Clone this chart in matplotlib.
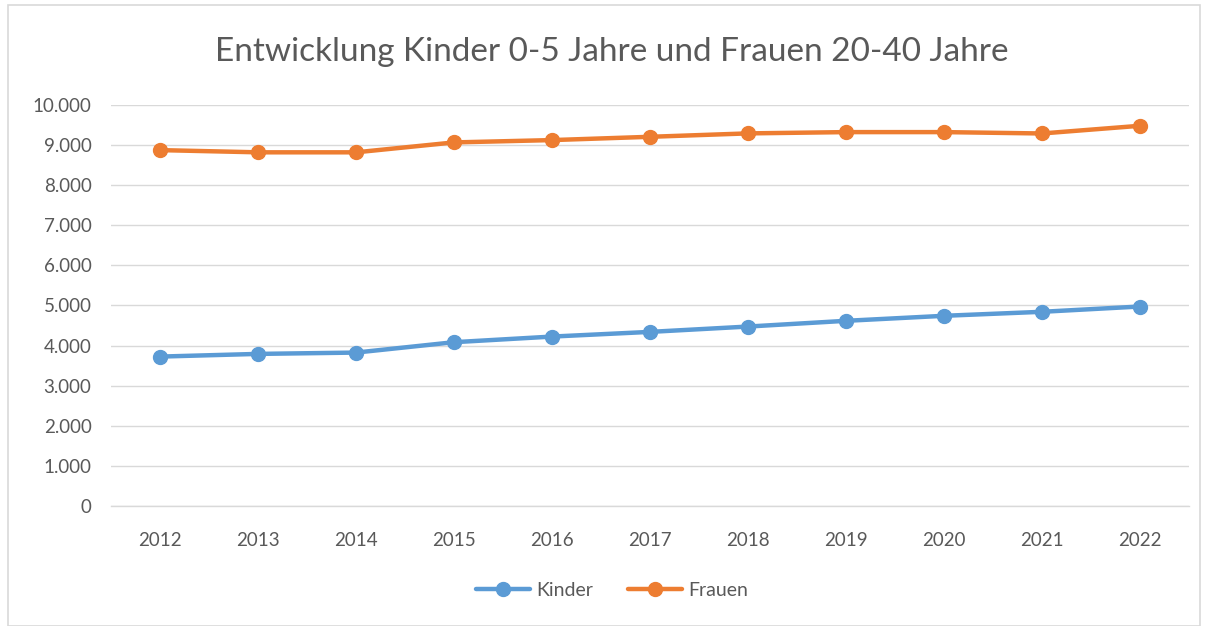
import matplotlib
matplotlib.use("Agg")
import matplotlib.pyplot as plt
from matplotlib.ticker import FuncFormatter, MultipleLocator
from matplotlib.patches import Rectangle

years = ["2012", "2013", "2014", "2015", "2016", "2017", "2018", "2019", "2020", "2021", "2022"]
kinder = [3726, 3793, 3826, 4085, 4225, 4342, 4475, 4618, 4743, 4843, 4975]
frauen = [8875, 8820, 8820, 9067, 9125, 9207, 9292, 9324, 9324, 9290, 9482]

plt.rcParams['font.family'] = ['Lato', 'DejaVu Sans']
W, H = 1206, 626
fig = plt.figure(figsize=(W / 100, H / 100), dpi=100)
fig.patch.set_facecolor('white')

# chart border
fig.add_artist(Rectangle((8 / W, 0), (1200 - 8) / W, (626 - 5) / H, transform=fig.transFigure,
                         fill=False, edgecolor='#d9d9d9', linewidth=1.2))

ax = fig.add_axes([111 / W, 1 - 506 / H, (1189 - 111) / W, (506 - 105) / H])
x = list(range(len(years)))
ax.plot(x, kinder, color='#5b9bd5', linewidth=3.2, marker='o', markersize=10, label='Kinder',
        solid_capstyle='round', zorder=3)
ax.plot(x, frauen, color='#ed7d31', linewidth=3.2, marker='o', markersize=10, label='Frauen',
        solid_capstyle='round', zorder=3)

ax.set_xlim(-0.5, len(years) - 0.5)
ax.set_ylim(0, 10000)
ax.yaxis.set_major_locator(MultipleLocator(1000))
ax.yaxis.set_major_formatter(FuncFormatter(lambda v, p: f"{int(v):,}".replace(",", ".")))
ax.set_xticks(x)
ax.set_xticklabels(years)
ax.grid(axis='y', color='#d9d9d9', linewidth=1)
ax.set_axisbelow(True)
for s in ['top', 'right', 'left']:
    ax.spines[s].set_visible(False)
ax.spines['bottom'].set_color('#d9d9d9')
ax.spines['bottom'].set_linewidth(1)
ax.tick_params(axis='both', length=0, labelsize=13.5, labelcolor='#595959')
ax.tick_params(axis='x', pad=19)
ax.tick_params(axis='y', pad=14)

fig.text(612 / W, 1 - 52 / H, "Entwicklung Kinder 0-5 Jahre und Frauen 20-40 Jahre",
         ha='center', va='center', fontsize=24, color='#595959')

ax.legend(loc='center', bbox_to_anchor=(612 / W, 1 - 590 / H), bbox_transform=fig.transFigure,
          ncol=2, frameon=False, fontsize=14, labelcolor='#595959', handlelength=2.8,
          handletextpad=0.3, columnspacing=1.8)

fig.savefig("out.png", dpi=100)
